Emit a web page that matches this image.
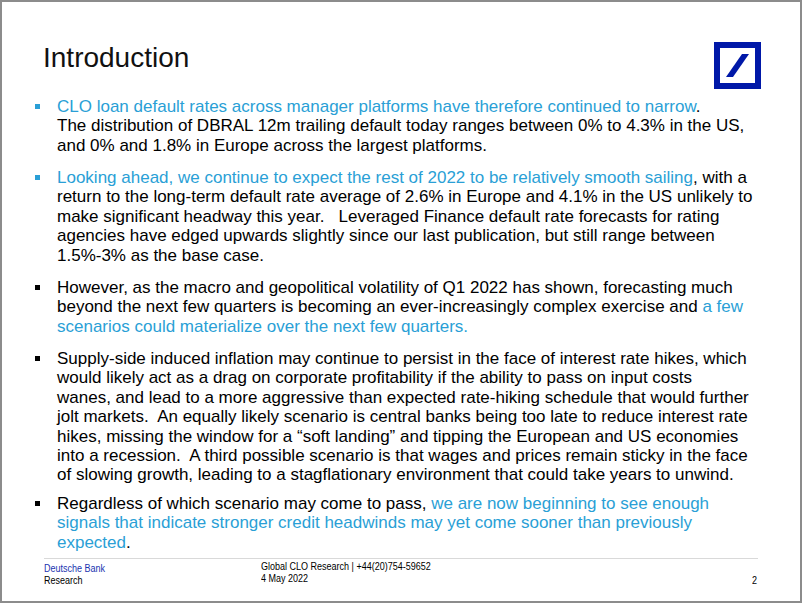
<!DOCTYPE html>
<html>
<head>
<meta charset="utf-8">
<script src="https://cdn.jsdelivr.net/npm/chart.js@4.4.0/dist/chart.umd.min.js"></script>
<style>
  html, body { margin: 0; padding: 0; background: #fff; }
  #slide {
    position: relative; width: 802px; height: 603px; box-sizing: border-box;
    border: 2px solid #8c8c8c; overflow: hidden;
    font-family: "Liberation Sans", Arial, sans-serif; color: #000;
  }
  #title { position: absolute; left: 41px; top: 40px; font-size: 28px; color: #111; }
  #logo { position: absolute; left: 712px; top: 40px; }
  .para { position: absolute; left: 55px; font-size: 17px; line-height: 19.4px; white-space: nowrap; }
  .mk { position: absolute; left: -22px; top: 7px; width: 5px; height: 5px; background: #000; }
  .mk.blue { background: #2a9fd6; }
  .b { color: #2a9fd6; }
  #rule { position: absolute; left: 42px; top: 556px; width: 714px; height: 1px; background: #d9d9d9; }
  .foot { position: absolute; font-size: 10px; line-height: 12px; white-space: nowrap;
          transform: scaleX(0.9); transform-origin: left top; }
</style>
</head>
<body>
<div id="slide">
  <div id="title"></div>
  <svg id="logo" width="47" height="47" viewBox="0 0 47 47">
    <rect x="3" y="3" width="41" height="41" fill="none" stroke="#0018a8" stroke-width="6"/>
    <polygon points="12,35 19,35 35,12 28,12" fill="#0018a8"/>
  </svg>
  <div id="body"></div>
  <div id="rule"></div>
  <div class="foot" style="left:42px; top:561px; color:#1a33b0;">Deutsche Bank</div>
  <div class="foot" style="left:42px; top:573px;">Research</div>
  <div class="foot" style="left:259px; top:559px;">Global CLO Research | +44(20)754-59652</div>
  <div class="foot" style="left:259px; top:571px;">4 May 2022</div>
  <div class="foot" style="left:750px; top:573px;">2</div>
</div>
<script>
const title = 'Introduction';
// each paragraph: marker colour, top of first line, lines of [blue?, text] runs
const paraTops = [95, 166, 276, 347, 492];
const markerBlue = [true, true, false, false, false];
const paragraphs = [
  [
    [[1, 'CLO loan default rates across manager platforms have therefore continued to narrow'], [0, '.']],
    [[0, 'The distribution of DBRAL 12m trailing default today ranges between 0% to 4.3% in the US,']],
    [[0, 'and 0% and 1.8% in Europe across the largest platforms.']]
  ],
  [
    [[1, 'Looking ahead, we continue to expect the rest of 2022 to be relatively smooth sailing'], [0, ', with a']],
    [[0, 'return to the long-term default rate average of 2.6% in Europe and 4.1% in the US unlikely to']],
    [[0, 'make significant headway this year.\u00a0\u00a0 Leveraged Finance default rate forecasts for rating']],
    [[0, 'agencies have edged upwards slightly since our last publication, but still range between']],
    [[0, '1.5%-3% as the base case.']]
  ],
  [
    [[0, 'However, as the macro and geopolitical volatility of Q1 2022 has shown, forecasting much']],
    [[0, 'beyond the next few quarters is becoming an ever-increasingly complex exercise and '], [1, 'a few']],
    [[1, 'scenarios could materialize over the next few quarters.']]
  ],
  [
    [[0, 'Supply-side induced inflation may continue to persist in the face of interest rate hikes, which']],
    [[0, 'would likely act as a drag on corporate profitability if the ability to pass on input costs']],
    [[0, 'wanes, and lead to a more aggressive than expected rate-hiking schedule that would further']],
    [[0, 'jolt markets.\u00a0 An equally likely scenario is central banks being too late to reduce interest rate']],
    [[0, 'hikes, missing the window for a \u201csoft landing\u201d and tipping the European and US economies']],
    [[0, 'into a recession.\u00a0 A third possible scenario is that wages and prices remain sticky in the face']],
    [[0, 'of slowing growth, leading to a stagflationary environment that could take years to unwind.']]
  ],
  [
    [[0, 'Regardless of which scenario may come to pass, '], [1, 'we are now beginning to see enough']],
    [[1, 'signals that indicate stronger credit headwinds may yet come sooner than previously']],
    [[1, 'expected'], [0, '.']]
  ]
];

document.getElementById('title').textContent = title;
const body = document.getElementById('body');
paragraphs.forEach((lines, i) => {
  const p = document.createElement('div');
  p.className = 'para';
  p.style.top = paraTops[i] + 'px';
  const mk = document.createElement('div');
  mk.className = 'mk' + (markerBlue[i] ? ' blue' : '');
  p.appendChild(mk);
  lines.forEach(runs => {
    const ln = document.createElement('div');
    runs.forEach(([blue, text]) => {
      const s = document.createElement('span');
      if (blue) s.className = 'b';
      s.textContent = text;
      ln.appendChild(s);
    });
    p.appendChild(ln);
  });
  body.appendChild(p);
});
</script>
</body>
</html>
